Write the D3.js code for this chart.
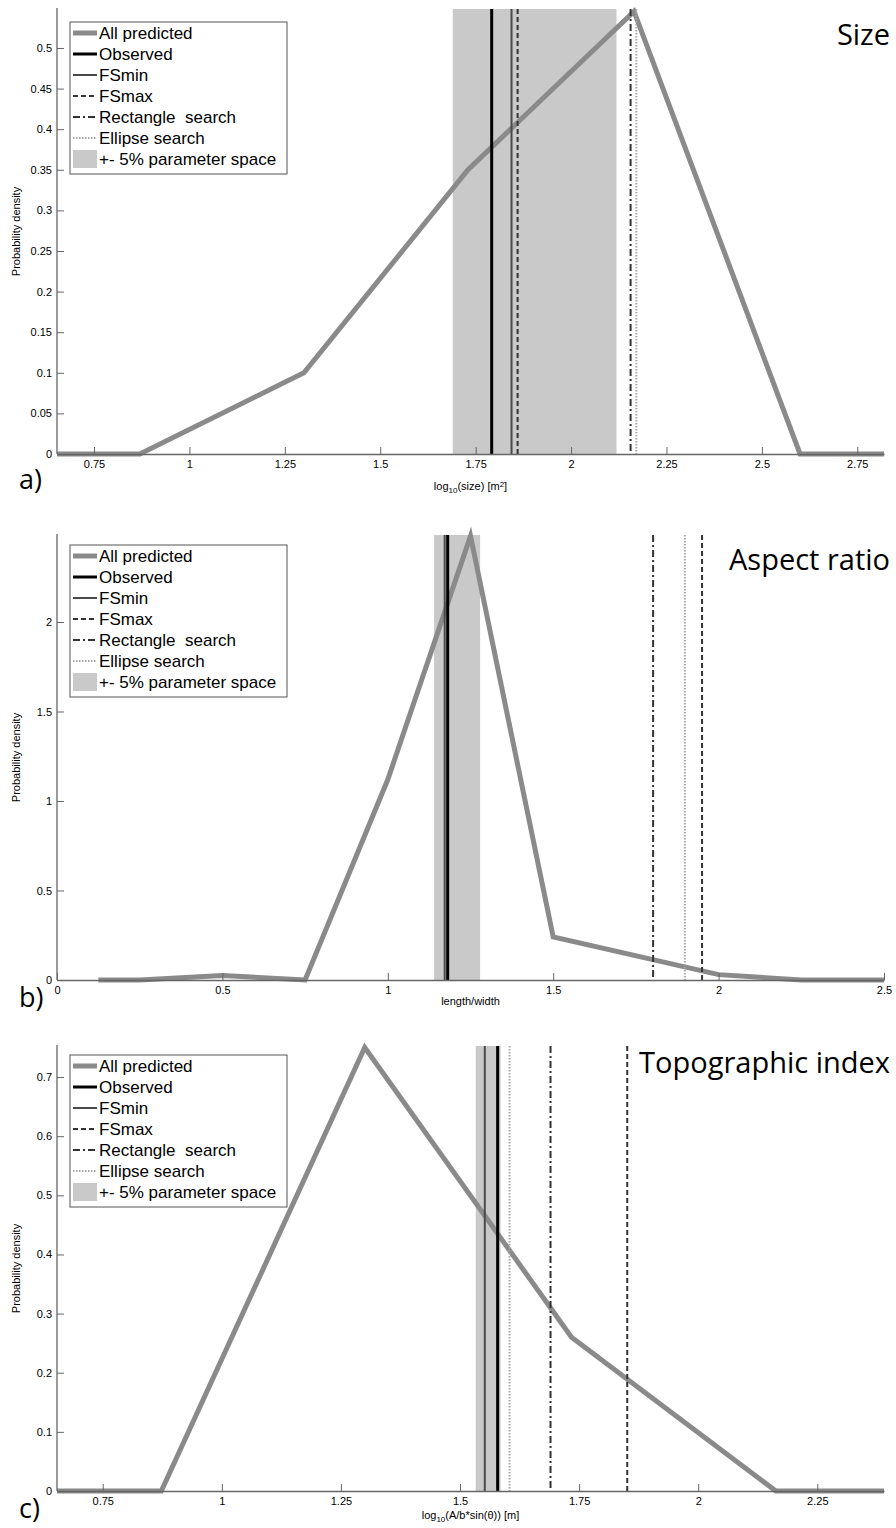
<!DOCTYPE html>
<html>
<head>
<meta charset="utf-8">
<script src="https://cdn.jsdelivr.net/npm/d3@7"></script>
<style>
  body { margin: 0; background: #fff; }
  text { font-family: "Liberation Sans", Arial, sans-serif; }
  .title, .tag { font-family: "Open Sans", "Noto Sans", sans-serif; }
</style>
</head>
<body>
<svg id="chart" width="896" height="1528"></svg>
<script>
// legend entries, same order for all panels
var legendLabels = ["All predicted", "Observed", "FSmin", "FSmax", "Rectangle  search", "Ellipse search", "+- 5% parameter space"];

// a) size
var sizeX = [0.653, 0.87, 1.30, 1.73, 2.165, 2.60, 2.82];
var sizeY = [0, 0, 0.10, 0.35, 0.545, 0, 0];
var sizeRefs = [1.792, 1.844, 1.860, 2.156, 2.171];   // observed, FSmin, FSmax, rectangle, ellipse
var sizeBand = [1.690, 2.119];
var sizeXTicks = [0.75, 1, 1.25, 1.5, 1.75, 2, 2.25, 2.5, 2.75];
var sizeYTicks = [0, 0.05, 0.1, 0.15, 0.2, 0.25, 0.3, 0.35, 0.4, 0.45, 0.5];

// b) aspect ratio
var aspectX = [0.125, 0.25, 0.5, 0.75, 1.0, 1.25, 1.5, 2.0, 2.25, 2.5];
var aspectY = [0, 0, 0.025, 0, 1.12, 2.48, 0.24, 0.03, 0, 0];
var aspectRefs = [1.181, 1.172, 1.950, 1.802, 1.898];
var aspectBand = [1.140, 1.279];
var aspectXTicks = [0, 0.5, 1, 1.5, 2, 2.5];
var aspectYTicks = [0, 0.5, 1, 1.5, 2];

// c) topographic index
var topoX = [0.654, 0.873, 1.30, 1.734, 2.163, 2.39];
var topoY = [0, 0, 0.75, 0.26, 0, 0];
var topoRefs = [1.579, 1.552, 1.851, 1.690, 1.604];
var topoBand = [1.533, 1.585];
var topoXTicks = [0.75, 1, 1.25, 1.5, 1.75, 2, 2.25];
var topoYTicks = [0, 0.1, 0.2, 0.3, 0.4, 0.5, 0.6, 0.7];

var left = 57, right = 884;
var curveColor = "#8a8a8a", bandColor = "#c9c9c9";

var refStyles = [
    {color: "#000", width: 3, dash: null},
    {color: "#4a4a4a", width: 2, dash: null},
    {color: "#333", width: 2, dash: "5,3"},
    {color: "#333", width: 2, dash: "7,3,2,3"},
    {color: "#a8a8a8", width: 2, dash: "1.5,1.5"}
];

var panels = [
    {x: sizeX, y: sizeY, refs: sizeRefs, band: sizeBand, xTicks: sizeXTicks, yTicks: sizeYTicks,
     xDomain: [0.653, 2.82], yDomain: [0, 0.548], top: 9, bottom: 454,
     title: "Size", titleY: 45, tag: "a)", tagY: 489, legendTop: 22, xlabelY: 486, xlabel: "size"},
    {x: aspectX, y: aspectY, refs: aspectRefs, band: aspectBand, xTicks: aspectXTicks, yTicks: aspectYTicks,
     xDomain: [0, 2.5], yDomain: [0, 2.486], top: 535, bottom: 980,
     title: "Aspect ratio", titleY: 570, tag: "b)", tagY: 1007, legendTop: 545, xlabelY: 1001, xlabel: "aspect"},
    {x: topoX, y: topoY, refs: topoRefs, band: topoBand, xTicks: topoXTicks, yTicks: topoYTicks,
     xDomain: [0.654, 2.39], yDomain: [0, 0.7525], top: 1046, bottom: 1491,
     title: "Topographic index", titleY: 1073, tag: "c)", tagY: 1518, legendTop: 1055, xlabelY: 1515, xlabel: "topo"}
];

var svg = d3.select("#chart");
var fmt = v => String(+v.toFixed(2));

panels.forEach(p => {
    var x = d3.scaleLinear().domain(p.xDomain).range([left, right]);
    var y = d3.scaleLinear().domain(p.yDomain).range([p.bottom, p.top]);
    var g = svg.append("g");

    // +- 5% band
    g.append("rect")
        .attr("x", x(p.band[0]))
        .attr("y", p.top)
        .attr("width", x(p.band[1]) - x(p.band[0]))
        .attr("height", p.bottom - p.top)
        .attr("fill", bandColor);

    // all predicted
    var pts = p.x.map((v, i) => [v, p.y[i]]);
    g.append("path")
        .datum(pts)
        .attr("fill", "none")
        .attr("stroke", curveColor)
        .attr("stroke-width", 5)
        .attr("stroke-linejoin", "miter")
        .attr("d", d3.line().x(d => x(d[0])).y(d => y(d[1])));

    // reference lines
    g.selectAll(".ref")
        .data(p.refs)
        .enter()
        .append("line")
        .classed("ref", true)
        .attr("x1", d => x(d))
        .attr("x2", d => x(d))
        .attr("y1", p.top)
        .attr("y2", p.bottom)
        .attr("stroke", (d, i) => refStyles[i].color)
        .attr("stroke-width", (d, i) => refStyles[i].width)
        .attr("stroke-dasharray", (d, i) => refStyles[i].dash);

    // axes
    var xAxis = g.append("g")
        .attr("transform", "translate(0," + p.bottom + ")")
        .call(d3.axisBottom(x).tickValues(p.xTicks).tickFormat(fmt).tickSizeInner(-7).tickSizeOuter(0).tickPadding(6));
    var yAxis = g.append("g")
        .attr("transform", "translate(" + left + ",0)")
        .call(d3.axisLeft(y).tickValues(p.yTicks).tickFormat(fmt).tickSizeInner(-7).tickSizeOuter(0).tickPadding(5));
    yAxis.select(".domain").attr("d", "M0," + p.bottom + "V" + (p.top - 1));
    [xAxis, yAxis].forEach(a => {
        a.select(".domain").attr("stroke", "#666").attr("stroke-width", 1.3);
        a.selectAll(".tick line").attr("stroke", "#666");
        a.selectAll(".tick text").attr("fill", "#000").style("font-size", "11px");
    });

    // y label
    g.append("text")
        .attr("transform", "translate(16," + ((p.top + p.bottom) / 2) + ") rotate(-90)")
        .attr("text-anchor", "middle")
        .attr("dy", "0.35em")
        .style("font-size", "11px")
        .text("Probability density");

    // x label
    var xl = g.append("text")
        .attr("x", (left + right) / 2)
        .attr("y", p.xlabelY)
        .attr("text-anchor", "middle")
        .attr("dy", "0.35em")
        .style("font-size", "11px");
    if (p.xlabel === "size") {
        xl.append("tspan").text("log");
        xl.append("tspan").attr("baseline-shift", "-35%").style("font-size", "8px").text("10");
        xl.append("tspan").text("(size) [m");
        xl.append("tspan").attr("baseline-shift", "40%").style("font-size", "8px").text("2");
        xl.append("tspan").text("]");
    } else if (p.xlabel === "topo") {
        xl.append("tspan").text("log");
        xl.append("tspan").attr("baseline-shift", "-35%").style("font-size", "8px").text("10");
        xl.append("tspan").text("(A/b*sin(θ)) [m]");
    } else {
        xl.text("length/width");
    }

    // panel title and tag
    g.append("text")
        .classed("title", true)
        .attr("x", 890)
        .attr("y", p.titleY)
        .attr("text-anchor", "end")
        .style("font-size", "29px")
        .text(p.title);
    g.append("text")
        .classed("tag", true)
        .attr("x", 19)
        .attr("y", p.tagY)
        .style("font-size", "27px")
        .text(p.tag);

    // legend
    var lg = g.append("g").attr("transform", "translate(70," + p.legendTop + ")");
    lg.append("rect")
        .attr("width", 217)
        .attr("height", 152)
        .attr("fill", "#fff")
        .attr("stroke", "#555")
        .attr("stroke-width", 1);
    var rows = lg.selectAll(".row")
        .data(legendLabels)
        .enter()
        .append("g")
        .classed("row", true)
        .attr("transform", (d, i) => "translate(0," + (11 + i * 21) + ")");
    rows.each(function (d, i) {
        var r = d3.select(this);
        if (i === 0) {
            r.append("line").attr("x1", 3).attr("x2", 27).attr("stroke", curveColor).attr("stroke-width", 5);
        } else if (i === 6) {
            r.append("rect").attr("x", 3).attr("y", -9).attr("width", 24).attr("height", 18).attr("fill", bandColor);
        } else {
            var s = refStyles[i - 1];
            r.append("line").attr("x1", 3).attr("x2", 27)
                .attr("stroke", s.color).attr("stroke-width", s.width).attr("stroke-dasharray", s.dash);
        }
        r.append("text")
            .attr("x", 29)
            .attr("dy", "0.35em")
            .style("font-size", "17px")
            .style("white-space", "pre")
            .text(d);
    });
});
</script>
</body>
</html>
